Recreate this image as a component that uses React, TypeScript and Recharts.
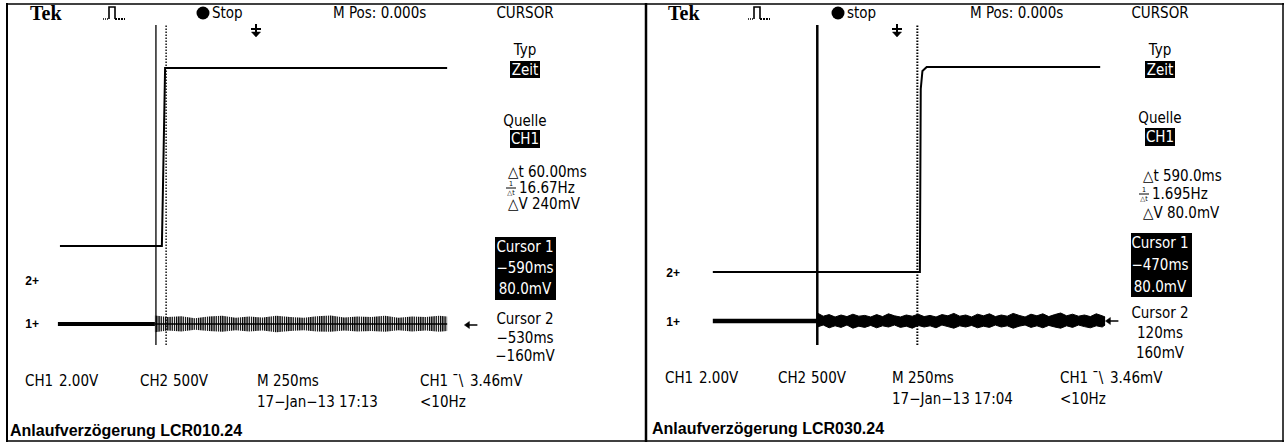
import React from 'react';
import { ComposedChart, Line, Area, XAxis, YAxis, ReferenceLine, ReferenceDot } from 'recharts';

// Time in ms (M 250ms/div, trigger at 0). Level in screen divisions from the centre line.

// LCR010.24
const leftCh2Time = [-1156, -555, -550, -536, 1127];
const leftCh2Level = [-1.525, -1.525, -0.4, 2.925, 2.925];
const leftCh1Time = [-1168, -596];
const leftCh1Level = [-3.475, -3.475];
const leftMidTime = [-596, 1127];
const leftMidLevel = [-3.475, -3.475];
const leftNoiseTime = [-596, -520, -440, -360, -280, -200, -120, -40, 40, 120, 200, 280, 360, 440, 520, 600, 680, 760, 840, 920, 1000, 1080, 1127];
const leftNoiseHigh = [-3.26, -3.3, -3.28, -3.33, -3.29, -3.27, -3.32, -3.29, -3.31, -3.27, -3.3, -3.32, -3.28, -3.26, -3.31, -3.29, -3.3, -3.27, -3.32, -3.29, -3.3, -3.27, -3.29];
const leftNoiseLow = [-3.68, -3.64, -3.66, -3.62, -3.65, -3.67, -3.63, -3.66, -3.64, -3.68, -3.65, -3.63, -3.66, -3.67, -3.64, -3.66, -3.65, -3.67, -3.63, -3.66, -3.64, -3.67, -3.65];
const leftCursors = [-590, -530];
const leftMarks = { ch1: -3.475, ch2: -2.4, trig: -3.5 };
const leftReadout = ['60.00ms', '16.67Hz', '240mV'];
const leftCursor1 = ['Cursor 1', '−590ms', '80.0mV'];
const leftCursor2 = ['Cursor 2', '−530ms', '−160mV'];
const leftFooter = ['17−Jan−13 17:13', 'Anlaufverzögerung LCR010.24', 'Stop'];

// LCR030.24
const rightCh2Time = [-1086, 135, 140, 150, 175, 1198];
const rightCh2Level = [-2.175, -2.175, 2.4, 2.85, 2.95, 2.95];
const rightCh1Time = [-1086, -470];
const rightCh1Level = [-3.4, -3.4];
const rightNoiseTime = [
  -470, -435, -400, -365, -330, -295, -260, -225, -190, -155, -120, -85, -50, -15, 20, 55, 90, 125, 160, 195, 230, 265, 300, 335, 370,
  405, 440, 475, 510, 545, 580, 615, 650, 685, 720, 755, 790, 825, 860, 895, 930, 965, 1000, 1035, 1070, 1105, 1140, 1175, 1210, 1227,
];
const rightNoiseHigh = [
  -3.2, -3.28, -3.24, -3.3, -3.25, -3.29, -3.23, -3.28, -3.26, -3.3, -3.24, -3.29, -3.22, -3.27, -3.3, -3.25, -3.28, -3.23, -3.29, -3.26,
  -3.3, -3.24, -3.27, -3.21, -3.28, -3.25, -3.3, -3.23, -3.27, -3.22, -3.29, -3.25, -3.28, -3.21, -3.26, -3.3, -3.23, -3.27, -3.22, -3.29,
  -3.24, -3.2, -3.27, -3.23, -3.28, -3.25, -3.29, -3.22, -3.27, -3.3,
];
const rightNoiseLow = [
  -3.55, -3.5, -3.57, -3.52, -3.56, -3.5, -3.58, -3.53, -3.56, -3.51, -3.57, -3.52, -3.55, -3.5, -3.56, -3.53, -3.58, -3.51, -3.55, -3.52,
  -3.57, -3.5, -3.54, -3.58, -3.52, -3.55, -3.51, -3.57, -3.53, -3.56, -3.5, -3.55, -3.52, -3.58, -3.53, -3.5, -3.56, -3.52, -3.57, -3.51,
  -3.55, -3.58, -3.52, -3.56, -3.5, -3.54, -3.57, -3.52, -3.55, -3.5,
];
const rightCursors = [-470, 120];
const rightMarks = { ch1: -3.425, ch2: -2.2, trig: -3.4 };
const rightReadout = ['590.0ms', '1.695Hz', '80.0mV'];
const rightCursor1 = ['Cursor 1', '−470ms', '80.0mV'];
const rightCursor2 = ['Cursor 2', '120ms', '160mV'];
const rightFooter = ['17−Jan−13 17:04', 'Anlaufverzögerung LCR030.24', 'stop'];

const toPoints = (t: number[], v: number[]) => t.map((x, i) => ({ t: x, v: v[i] }));
const toBand = (t: number[], lo: number[], hi: number[]) => t.map((x, i) => ({ t: x, range: [lo[i], hi[i]] }));

const SCOPE_FONT = "'Liberation Sans Narrow', 'DejaVu Sans Condensed', 'Arial Narrow', sans-serif";

const markText = (label: string) => (p: any) => (
  <text x={p.cx} y={p.cy} textAnchor="middle" dominantBaseline="central" fontFamily="'Liberation Sans', Arial, sans-serif" fontWeight="bold" fontSize={12}>
    {label}
  </text>
);

const trigArrow = (p: any) => (
  <g stroke="#000" strokeWidth={2} fill="#000">
    <line x1={p.cx} y1={p.cy - 7} x2={p.cx} y2={p.cy + 2} />
    <line x1={p.cx - 5} y1={p.cy - 2} x2={p.cx + 5} y2={p.cy - 2} />
    <path d={`M${p.cx - 4.5},${p.cy + 1} L${p.cx + 4.5},${p.cy + 1} L${p.cx},${p.cy + 6} Z`} strokeWidth={0.5} />
  </g>
);

const levelArrow = (p: any) => (
  <g stroke="#000" strokeWidth={1.5} fill="#000">
    <line x1={p.cx - 5} y1={p.cy} x2={p.cx + 6} y2={p.cy} />
    <path d={`M${p.cx - 7},${p.cy} L${p.cx - 2},${p.cy - 3.5} L${p.cx - 2},${p.cy + 3.5} Z`} strokeWidth={0.5} />
  </g>
);

type ScopeProps = {
  id: string;
  left: number;
  plotLeft: number;
  ch2: { t: number; v: number }[];
  ch1: { t: number; v: number }[];
  mid?: { t: number; v: number }[];
  band: { t: number; range: number[] }[];
  comb: boolean;
  cursors: number[];
  solidWidth: number;
  dotWidth: number;
  marks: { ch1: number; ch2: number; trig: number };
  ch1Width: number;
};

function ScopeChart(props: ScopeProps) {
  const { id, left, plotLeft, ch2, ch1, mid, band, comb, cursors, solidWidth, dotWidth, marks, ch1Width } = props;
  return (
    <div style={{ position: 'absolute', left, top: 0 }}>
      <ComposedChart width={640} height={443} margin={{ top: 25, bottom: 98, left: plotLeft, right: 640 - plotLeft - 424 }}>
        <defs>
          <pattern id={id} width="2.2" height="20" patternUnits="userSpaceOnUse">
            <rect width="1.3" height="20" fill="#000" />
          </pattern>
        </defs>
        <XAxis type="number" dataKey="t" domain={[-1250, 1250]} hide allowDataOverflow />
        <YAxis type="number" domain={[-4, 4]} hide allowDataOverflow />
        <ReferenceLine x={cursors[0]} stroke="#000" strokeWidth={solidWidth} />
        <ReferenceLine x={cursors[1]} stroke="#000" strokeWidth={dotWidth} strokeDasharray="1.5 1.5" />
        <Area
          data={band}
          dataKey="range"
          type="linear"
          fill={comb ? `url(#${id})` : '#000'}
          fillOpacity={1}
          stroke={comb ? 'none' : '#000'}
          strokeWidth={1}
          dot={false}
          activeDot={false}
          isAnimationActive={false}
        />
        {mid && (
          <Line data={mid} dataKey="v" type="linear" stroke="#000" strokeWidth={1.5} dot={false} activeDot={false} isAnimationActive={false} />
        )}
        <Line data={ch1} dataKey="v" type="linear" stroke="#000" strokeWidth={ch1Width} dot={false} activeDot={false} isAnimationActive={false} />
        <Line data={ch2} dataKey="v" type="linear" stroke="#000" strokeWidth={2} dot={false} activeDot={false} isAnimationActive={false} />
        <ReferenceDot x={-1320} y={marks.ch1} ifOverflow="visible" shape={markText('1+')} />
        <ReferenceDot x={-1320} y={marks.ch2} ifOverflow="visible" shape={markText('2+')} />
        <ReferenceDot x={0} y={3.85} ifOverflow="visible" shape={trigArrow} />
        <ReferenceDot x={1270} y={marks.trig} ifOverflow="visible" shape={levelArrow} />
      </ComposedChart>
    </div>
  );
}

type Layout = {
  tekX: number; pulseX: number; dotX: number; mposX: number; menuX: number;
  quelleY: number; srcY: number; dtY: number; hzX: number; hzY: number; dvY: number;
  c1Box: number[]; c1Y: number[]; c2Y: number[];
  row1Y: number; row2Y: number; ch1X: number; ch2X: number; mX: number; trigX: number;
  titleX: number; titleY: number;
};

const T = ({ x, y, children, anchor = 'start', size = 15, fill = '#000' }: any) => (
  <text x={x} y={y} textAnchor={anchor} dominantBaseline="central" fontFamily={SCOPE_FONT} fontSize={size} fill={fill}>
    {children}
  </text>
);

function Readouts({ l, readout, c1, c2, footer }: { l: Layout; readout: string[]; c1: string[]; c2: string[]; footer: string[] }) {
  const m = l.menuX;
  const px = l.pulseX;
  return (
    <g>
      <text x={l.tekX} y={13} dominantBaseline="central" fontFamily="'Liberation Serif', 'Times New Roman', serif" fontWeight="bold" fontSize={20}>Tek</text>
      <g stroke="#000" fill="none">
        <line x1={px} y1={19} x2={px + 6} y2={19} strokeWidth={1.5} strokeDasharray="1 1" />
        <path d={`M${px + 6},19 V7 H${px + 12} V19`} strokeWidth={1.6} />
        <line x1={px + 12} y1={19} x2={px + 22} y2={19} strokeWidth={1.8} strokeDasharray="2 1" />
      </g>
      <circle cx={l.dotX} cy={13} r={6.5} fill="#000" />
      <T x={l.dotX + 9} y={13}>{footer[2]}</T>
      <T x={l.mposX} y={13}>M Pos: 0.000s</T>
      <T x={m} y={13} anchor="middle">CURSOR</T>
      <T x={m} y={50} anchor="middle">Typ</T>
      <rect x={m - 15} y={61} width={30} height={17} fill="#000" />
      <T x={m} y={69.5} anchor="middle" fill="#fff">Zeit</T>
      <T x={m} y={l.quelleY} anchor="middle">Quelle</T>
      <rect x={m - 15} y={l.srcY - 9} width={30} height={18} fill="#000" />
      <T x={m} y={l.srcY} anchor="middle" fill="#fff">CH1</T>
      <T x={m - 17} y={l.dtY}>{`△t ${readout[0]}`}</T>
      <text x={l.hzX + 5} y={l.hzY - 4} textAnchor="middle" dominantBaseline="central" fontFamily={SCOPE_FONT} fontSize={7}>1</text>
      <line x1={l.hzX} y1={l.hzY} x2={l.hzX + 10} y2={l.hzY} stroke="#000" strokeWidth={1} />
      <text x={l.hzX + 5} y={l.hzY + 4.5} textAnchor="middle" dominantBaseline="central" fontFamily={SCOPE_FONT} fontSize={7}>△t</text>
      <T x={l.hzX + 13} y={l.hzY}>{readout[1]}</T>
      <T x={m - 17} y={l.dvY}>{`△V ${readout[2]}`}</T>
      <rect x={l.c1Box[0]} y={l.c1Box[1]} width={l.c1Box[2]} height={l.c1Box[3]} fill="#000" />
      {c1.map((s, i) => (
        <T key={s} x={m} y={l.c1Y[i]} anchor="middle" fill="#fff">{s}</T>
      ))}
      {c2.map((s, i) => (
        <T key={s} x={m} y={l.c2Y[i]} anchor="middle">{s}</T>
      ))}
      <T x={l.ch1X} y={l.row1Y}>CH1</T>
      <T x={l.ch1X + 34} y={l.row1Y}>2.00V</T>
      <T x={l.ch2X} y={l.row1Y}>CH2</T>
      <T x={l.ch2X + 33} y={l.row1Y}>500V</T>
      <T x={l.mX} y={l.row1Y}>M 250ms</T>
      <T x={l.trigX} y={l.row1Y}>CH1</T>
      <T x={l.trigX + 32} y={l.row1Y}>¯\</T>
      <T x={l.trigX + 50} y={l.row1Y}>3.46mV</T>
      <T x={l.mX} y={l.row2Y}>{footer[0]}</T>
      <T x={l.trigX} y={l.row2Y}>&lt;10Hz</T>
      <text x={l.titleX} y={l.titleY} dominantBaseline="central" fontFamily="'Liberation Sans', Arial, sans-serif" fontWeight="bold" fontSize={16}>
        {footer[1]}
      </text>
    </g>
  );
}

const leftLayout: Layout = {
  tekX: 30, pulseX: 103, dotX: 203, mposX: 333, menuX: 525,
  quelleY: 121, srcY: 139, dtY: 172, hzX: 506, hzY: 188, dvY: 204,
  c1Box: [495, 237, 61, 63], c1Y: [247, 268, 289], c2Y: [319, 338, 356],
  row1Y: 381, row2Y: 402, ch1X: 25, ch2X: 140, mX: 257, trigX: 420, titleX: 10, titleY: 430,
};

const rightLayout: Layout = {
  tekX: 668, pulseX: 748, dotX: 838, mposX: 970, menuX: 1160,
  quelleY: 118, srcY: 137, dtY: 176, hzX: 1139, hzY: 194, dvY: 213,
  c1Box: [1131, 233, 61, 64], c1Y: [243, 265, 287], c2Y: [313, 333, 353],
  row1Y: 378, row2Y: 399, ch1X: 665, ch2X: 778, mX: 892, trigX: 1060, titleX: 652, titleY: 428,
};

export default function App() {
  return (
    <div style={{ position: 'absolute', left: 0, top: 0, width: 1286, height: 443, background: '#fff', overflow: 'hidden' }}>
      <ScopeChart
        id="combLeft"
        left={0}
        plotLeft={44}
        ch2={toPoints(leftCh2Time, leftCh2Level)}
        ch1={toPoints(leftCh1Time, leftCh1Level)}
        mid={toPoints(leftMidTime, leftMidLevel)}
        band={toBand(leftNoiseTime, leftNoiseLow, leftNoiseHigh)}
        comb
        cursors={leftCursors}
        solidWidth={1.3}
        dotWidth={1.4}
        marks={leftMarks}
        ch1Width={4}
      />
      <ScopeChart
        id="combRight"
        left={646}
        plotLeft={39}
        ch2={toPoints(rightCh2Time, rightCh2Level)}
        ch1={toPoints(rightCh1Time, rightCh1Level)}
        band={toBand(rightNoiseTime, rightNoiseLow, rightNoiseHigh)}
        comb={false}
        cursors={rightCursors}
        solidWidth={2.5}
        dotWidth={2}
        marks={rightMarks}
        ch1Width={4.5}
      />
      <svg width={1286} height={443} style={{ position: 'absolute', left: 0, top: 0, pointerEvents: 'none' }}>
        <g stroke="#000" fill="none">
          <line x1={7} y1={4} x2={1284} y2={4} strokeWidth={1.5} />
          <line x1={7} y1={3} x2={7} y2={442} strokeWidth={2} />
          <line x1={646} y1={3} x2={646} y2={442} strokeWidth={2.5} />
          <line x1={1283} y1={3} x2={1283} y2={442} strokeWidth={1.5} />
          <line x1={7} y1={441} x2={1284} y2={441} strokeWidth={1.5} />
        </g>
        <Readouts l={leftLayout} readout={leftReadout} c1={leftCursor1} c2={leftCursor2} footer={leftFooter} />
        <Readouts l={rightLayout} readout={rightReadout} c1={rightCursor1} c2={rightCursor2} footer={rightFooter} />
      </svg>
    </div>
  );
}
